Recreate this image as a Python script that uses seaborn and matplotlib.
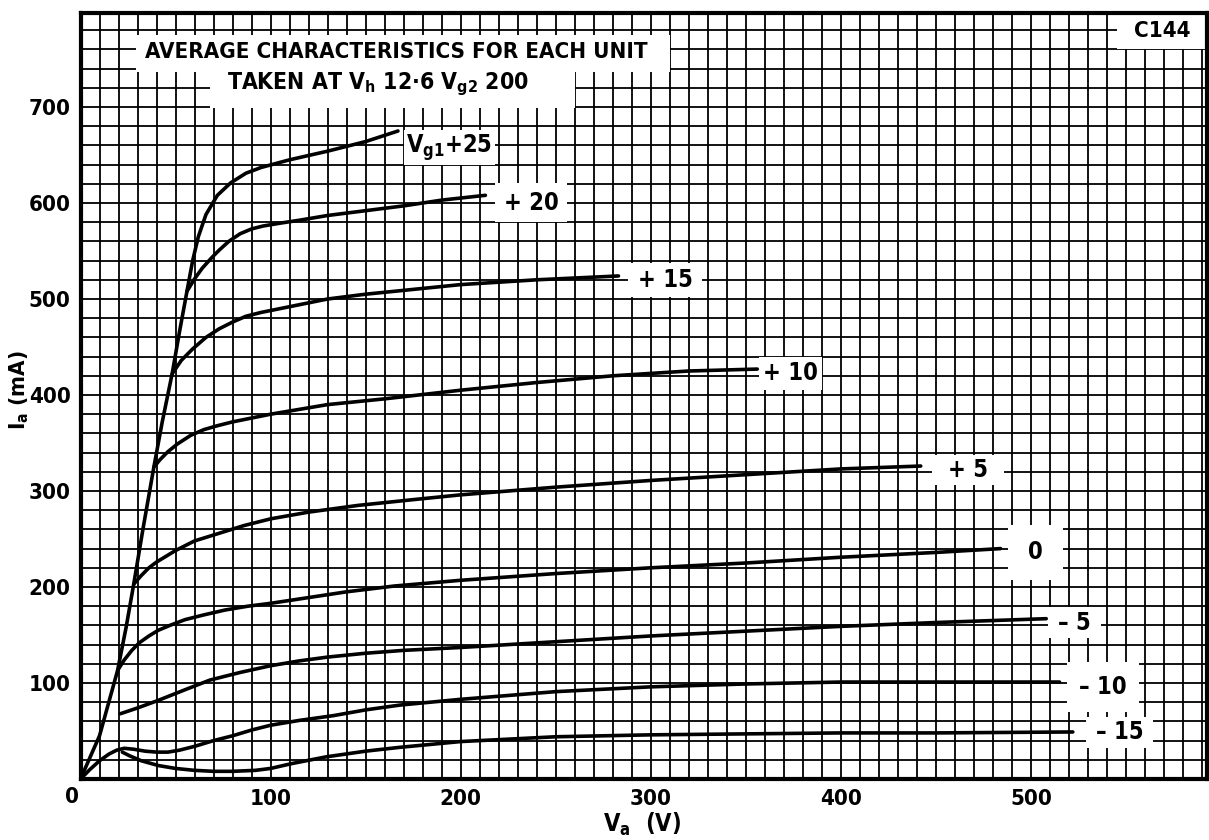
import numpy as np
import pandas as pd
import matplotlib
matplotlib.use("Agg")
import matplotlib.pyplot as plt
import seaborn as sns
from matplotlib import font_manager
from matplotlib.patches import Rectangle

# ---------------- data ----------------
va_p25 = [0, 10, 19.5, 24, 28, 33, 38.6, 43, 48.2, 52, 56, 59, 62, 66, 72, 79, 87, 95, 110, 130, 150, 167]
ia_p25 = [0, 45, 113, 158, 203, 262, 325, 372, 422, 465, 508, 540, 565, 588, 608, 621, 631, 637, 645, 654, 664, 675]

va_p20 = [56, 60, 64, 69, 73, 78, 84, 90, 96, 105, 115, 130, 150, 170, 190, 213]
ia_p20 = [508, 521, 532, 543, 551, 560, 568, 573, 576, 579, 582, 587, 592, 597, 603, 608]

va_p15 = [48.2, 53, 59, 66, 73, 80, 87, 95, 105, 115, 130, 150, 175, 200, 240, 283]
ia_p15 = [422, 436, 448, 460, 469, 476, 482, 486, 490, 494, 500, 505, 510, 515, 520, 524]

va_p10 = [38.6, 42, 46, 51, 58, 65, 72, 80, 90, 100, 115, 130, 160, 200, 240, 280, 320, 356]
ia_p10 = [325, 333, 341, 349, 358, 364, 368, 372, 376, 380, 385, 390, 396, 405, 413, 420, 425, 427]

va_p5 = [28, 32, 36, 40, 45, 50, 60, 73, 86, 100, 120, 146, 175, 200, 250, 300, 350, 400, 442]
ia_p5 = [203, 212, 220, 226, 232, 238, 248, 256, 264, 271, 278, 285, 291, 296, 304, 311, 317, 323, 326]

va_0 = [19.5, 23, 27, 31, 36, 41, 47, 55, 65, 76, 88, 100, 120, 140, 165, 200, 250, 300, 350, 400, 450, 484]
ia_0 = [113, 124, 134, 142, 149, 155, 160, 166, 171, 176, 180, 183, 189, 195, 201, 207, 214, 220, 225, 231, 236, 240]

va_m5 = [21, 30, 41, 55, 68, 84, 100, 115, 130, 150, 170, 200, 250, 300, 350, 400, 450, 508]
ia_m5 = [68, 74, 82, 93, 103, 111, 118, 123, 127, 131, 134, 137, 143, 149, 154, 159, 163, 167]

va_m10 = [0, 5, 10, 15, 19, 23, 28, 34, 40, 46, 52, 60, 70, 80, 90, 100, 115, 133, 150, 168, 200, 250, 300, 350, 400, 450, 515]
ia_m10 = [0, 10, 19, 26, 30, 32, 31, 29, 28, 28, 30, 34, 40, 45, 51, 56, 61, 66, 72, 77, 83, 91, 96, 99, 101, 101, 101]

va_m15 = [22, 26, 32, 41, 50, 60, 70, 80, 92, 100, 111, 129, 150, 168, 200, 250, 300, 350, 400, 450, 522]
ia_m15 = [28, 24, 19, 14, 11, 9, 8, 8, 9, 11, 16, 23, 29, 33, 39, 44, 46, 47, 48, 48, 49]

curve_names = ["+25", "+20", "+15", "+10", "+5", "0", "-5", "-10", "-15"]
curve_labels = ["V$_{g1}$+25", "+ 20", "+ 15", "+ 10", "+ 5", "0", "\u2013 5", "\u2013 10", "\u2013 15"]

x_ticks = [100, 200, 300, 400, 500]
y_ticks = [100, 200, 300, 400, 500, 600, 700]

title_line1 = "AVERAGE CHARACTERISTICS FOR EACH UNIT"
title_line2 = "TAKEN AT V$_h$ 12\u00b76 V$_{g2}$ 200"
code_label = "C144"
x_label = "V$_a$  (V)"
y_label = "I$_a$ (mA)"

# ---------------- build table ----------------
series = [(va_p25, ia_p25), (va_p20, ia_p20), (va_p15, ia_p15), (va_p10, ia_p10),
          (va_p5, ia_p5), (va_0, ia_0), (va_m5, ia_m5), (va_m10, ia_m10), (va_m15, ia_m15)]
frames = []
for name, (vx, iy) in zip(curve_names, series):
    frames.append(pd.DataFrame({"Va": vx, "Ia": iy, "curve": name}))
df = pd.concat(frames, ignore_index=True)

# ---------------- style ----------------
sns.set_style("white")
names = {f.name for f in font_manager.fontManager.ttflist}
if "Liberation Sans Narrow" in names:
    FAM = ["Liberation Sans Narrow", "DejaVu Sans"]
    STRETCH = "normal"
else:
    FAM = ["DejaVu Sans"]
    STRETCH = "condensed"
plt.rcParams["font.family"] = FAM
plt.rcParams["font.stretch"] = STRETCH
plt.rcParams["font.weight"] = "bold"
plt.rcParams["mathtext.default"] = "regular"
for k in ["text.color", "axes.labelcolor", "xtick.color", "ytick.color"]:
    plt.rcParams[k] = "black"

W, H = 1209, 840
fig = plt.figure(figsize=(W / 100, H / 100), dpi=100)
L, R, B, T = 80.5, 1207, 779, 13
ax = fig.add_axes([L / W, 1 - B / H, (R - L) / W, (B - T) / H])

XMAX = (R - L) / 1.901
YMAX = (B - T) / 0.96
ax.set_xlim(0, XMAX)
ax.set_ylim(0, YMAX)

# grid
ax.set_xticks(np.arange(0, XMAX, 10), minor=True)
ax.set_yticks(np.arange(0, YMAX, 20), minor=True)
ax.set_xticks(x_ticks)
ax.set_yticks(y_ticks)
ax.set_xticklabels([str(v) for v in x_ticks])
ax.set_yticklabels([str(v) for v in y_ticks])
ax.grid(True, which="both", color="black", lw=1.3)
ax.set_axisbelow(True)
ax.tick_params(which="minor", length=0)
ax.tick_params(which="major", length=4, width=1.8, color="black", direction="out",
               labelsize=16, pad=3, labelcolor="black")
for lab in ax.get_xticklabels() + ax.get_yticklabels():
    lab.set_fontweight("bold")
for sp in ax.spines.values():
    sp.set_visible(True)
    sp.set_color("black")
    sp.set_linewidth(3)

# curves
sns.lineplot(data=df, x="Va", y="Ia", units="curve", estimator=None, sort=False,
             color="black", lw=2.6, ax=ax, legend=False)
for ln in ax.get_lines():
    ln.set_solid_capstyle("round")
    ln.set_solid_joinstyle("round")
    ln.set_zorder(3)
ax.set_xlabel("")
ax.set_ylabel("")

# label boxes (white patches covering the grid)
boxes = [(170, 218, 640, 676), (218, 256, 580, 621), (288, 327, 502, 537),
         (357, 390, 405, 440), (448, 486, 306, 337), (488, 517, 207, 265),
         (509, 537, 147, 179), (519, 557, 70, 122), (529, 564, 32, 65)]
for (x0, x1, y0, y1), txt in zip(boxes, curve_labels):
    ax.add_patch(Rectangle((x0, y0), x1 - x0, y1 - y0, facecolor="white", edgecolor="none", zorder=2))
    ax.text((x0 + x1) / 2, (y0 + y1) / 2, txt, ha="center", va="center", fontsize=17,
            fontweight="bold", zorder=4, color="black")

# title boxes
ax.add_patch(Rectangle((29, 736), 281, 39, facecolor="white", edgecolor="none", zorder=2))
ax.add_patch(Rectangle((68, 699), 192, 37.5, facecolor="white", edgecolor="none", zorder=2))
ax.text(34, 757, title_line1, ha="left", va="center", fontsize=16, fontweight="bold", zorder=4)
ax.text(77, 724, title_line2, ha="left", va="center", fontsize=16.5, fontweight="bold", zorder=4)

# code box
ax.add_patch(Rectangle((545, 760), XMAX - 545, YMAX - 760, facecolor="white", edgecolor="none", zorder=2))
ax.text((545 + XMAX) / 2, (760 + YMAX) / 2, code_label, ha="center", va="center", fontsize=16,
        fontweight="bold", zorder=4)

# origin label
ax.annotate("0", xy=(0, 0), xytext=(-9, -8), textcoords="offset pixels", ha="center", va="top",
            fontsize=16, fontweight="bold", annotation_clip=False)

# axis labels
fig.text(642 / W, 1 - 824 / H, x_label, ha="center", va="center", fontsize=17, fontweight="bold")
fig.text(19 / W, 1 - 390 / H, y_label, ha="center", va="center", fontsize=16, fontweight="bold",
         rotation=90)

fig.savefig("out.png", dpi=100, facecolor="white")
